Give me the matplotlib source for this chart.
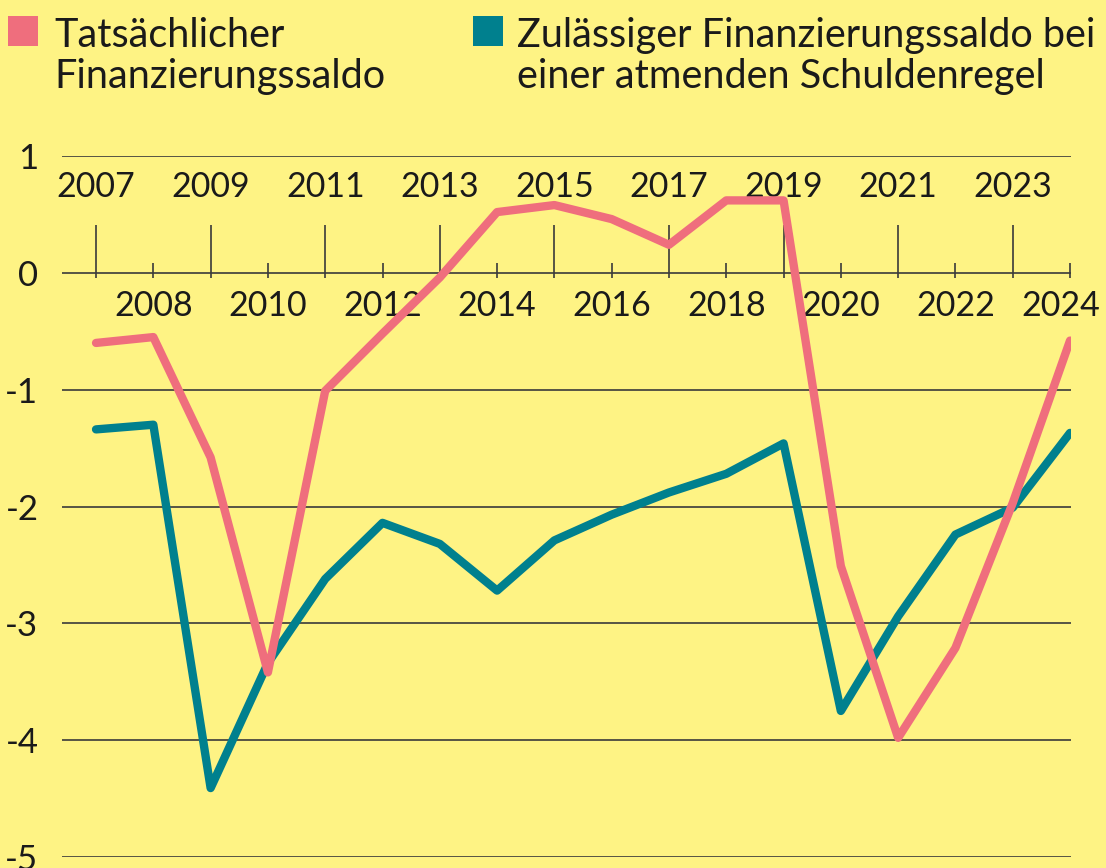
import numpy as np
import matplotlib.pyplot as plt
from matplotlib.patches import Rectangle

plt.rcParams['font.family'] = ['Lato', 'DejaVu Sans']
plt.rcParams['axes.unicode_minus'] = False

# Daten (in % des BIP)
years = np.arange(2007, 2025)
actual = [-0.60, -0.55, -1.58, -3.42, -1.01, -0.52, -0.04, 0.52, 0.58, 0.46,
          0.24, 0.62, 0.62, -2.51, -3.98, -3.21, -1.97, -0.58]
allowed = [-1.34, -1.30, -4.41, -3.34, -2.62, -2.14, -2.32, -2.72, -2.29, -2.07,
           -1.88, -1.72, -1.46, -3.75, -2.94, -2.24, -2.01, -1.37]
yticks = [1, 0, -1, -2, -3, -4, -5]
ylabels = ['1', '0', '-1', '-2', '-3', '-4', '-5']
legend_labels = ['Tatsächlicher\nFinanzierungssaldo',
                 'Zulässiger Finanzierungssaldo bei\neiner atmenden Schuldenregel']

bg = '#FEF384'
pink = '#EF6E7D'
teal = '#00808E'
grid_c = '#3a3a3a'
txt_c = '#1a1a1a'

W, H = 1106, 868
fig = plt.figure(figsize=(W / 100, H / 100), dpi=100, facecolor=bg)
ax = fig.add_axes([62 / W, 1 - 857 / H, (1071 - 62) / W, (857 - 156) / H])
ax.set_facecolor(bg)
ax.set_xlim(2006.406, 2024.017)
ax.set_ylim(-5, 1)
for s in ax.spines.values():
    s.set_visible(False)

# horizontale Linien
for v in yticks:
    ax.axhline(v, color=grid_c, lw=1.2, zorder=1)

ax.set_xticks([])
ax.set_yticks(yticks)
ax.set_yticklabels(ylabels)
ax.tick_params(axis='y', length=0, pad=17, labelsize=25, labelcolor=txt_c)

# Jahresstriche an der Nulllinie
px = 6.0 / 701  # Datenhöhe pro Pixel
odd = years[years % 2 == 1]
even = years[years % 2 == 0]
ax.vlines(odd, -5 * px, 48 * px, color=grid_c, lw=1.2, zorder=1)
ax.vlines(even, -5 * px, 10 * px, color=grid_c, lw=1.2, zorder=1)

for y in odd:
    ax.text(y, 0.735, str(y), ha='center', va='center', fontsize=24.5, color=txt_c)
for y in even:
    xx = y - 0.16 if y == years[-1] else y   # letztes Label etwas nach links
    ax.text(xx, -0.285, str(y), ha='center', va='center', fontsize=24.5, color=txt_c)

ax.plot(years, allowed, color=teal, lw=6, solid_capstyle='round', solid_joinstyle='round', zorder=3)
ax.plot(years, actual, color=pink, lw=6, solid_capstyle='round', solid_joinstyle='round', zorder=4)

# Legende
for xs, xt, c, lab in [(8, 54, pink, legend_labels[0]), (473, 517, teal, legend_labels[1])]:
    fig.patches.append(Rectangle((xs / W, 1 - 46 / H), 30 / W, 30 / H,
                                 transform=fig.transFigure, color=c, lw=0))
    fig.text(xt / W, 1 - 17 / H, lab, ha='left', va='top', fontsize=28.5,
             color=txt_c, linespacing=1.12)

fig.savefig('out.png', dpi=100, facecolor=bg)
